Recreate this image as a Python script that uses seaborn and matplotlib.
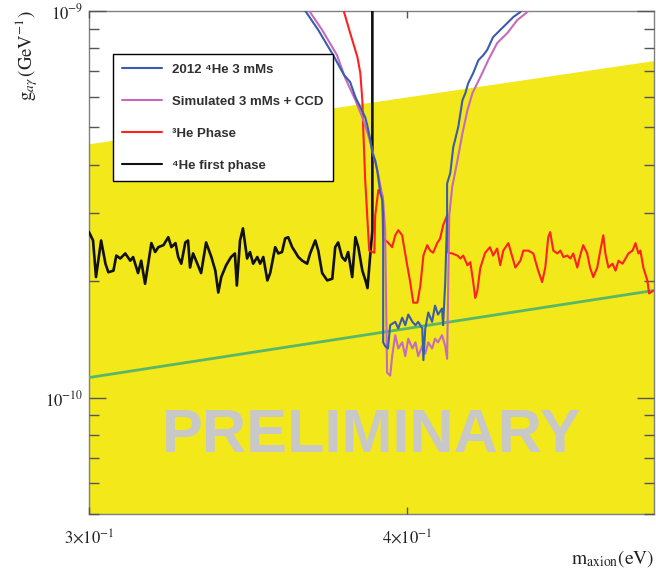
import numpy as np
import matplotlib
matplotlib.use("Agg")
import matplotlib.pyplot as plt
import seaborn as sns
from matplotlib.ticker import LogLocator, NullLocator, FixedLocator, NullFormatter
from matplotlib.lines import Line2D

# ---------------- data (g in units of 1e-10 GeV^-1, mass in eV) ----------------
black_m = [0.3000, 0.3011, 0.3019, 0.3033, 0.3045, 0.3053, 0.3067, 0.3075, 0.3086, 0.3100,
           0.3114, 0.3122, 0.3136, 0.3145, 0.3156, 0.3165, 0.3174, 0.3185, 0.3194, 0.3209,
           0.3223, 0.3232, 0.3244, 0.3252, 0.3261, 0.3273, 0.3281, 0.3287, 0.3296, 0.3305,
           0.3320, 0.3335, 0.3351, 0.3363, 0.3372, 0.3381, 0.3396, 0.3411, 0.3423, 0.3429,
           0.3439, 0.3448, 0.3461, 0.3470, 0.3480, 0.3493, 0.3502, 0.3512, 0.3525, 0.3534,
           0.3550, 0.3560, 0.3572, 0.3582, 0.3592, 0.3605, 0.3615, 0.3625, 0.3638, 0.3654,
           0.3664, 0.3681, 0.3691, 0.3704, 0.3721, 0.3738, 0.3748, 0.3758, 0.3771, 0.3782,
           0.3792, 0.3806, 0.3817, 0.3827, 0.3841, 0.3852, 0.3859, 0.3869, 0.3876, 0.3876]
black_g = [2.68, 2.55, 2.05, 2.55, 2.22, 2.11, 2.13, 2.33, 2.29, 2.36,
           2.26, 2.31, 2.10, 2.26, 1.97, 2.22, 2.51, 2.38, 2.45, 2.48,
           2.60, 2.45, 2.51, 2.31, 2.22, 2.52, 2.55, 2.17, 2.36, 2.26,
           2.10, 2.52, 2.31, 2.13, 1.87, 2.05, 2.20, 2.31, 2.36, 1.95,
           2.55, 2.74, 2.29, 2.38, 2.22, 2.31, 2.22, 2.31, 2.01, 2.10,
           2.45, 2.36, 2.38, 2.58, 2.60, 2.45, 2.38, 2.31, 2.26, 2.22,
           2.36, 2.55, 2.40, 2.10, 2.01, 2.03, 2.45, 2.52, 2.31, 2.26,
           2.38, 2.05, 2.60, 2.45, 2.13, 2.01, 1.92, 2.36, 2.70, 20.0]

red_m = [0.3770, 0.3778, 0.3799, 0.3824, 0.3834, 0.3841, 0.3844, 0.3848, 0.3851, 0.3858,
         0.3865, 0.3883, 0.3886, 0.3897, 0.3911, 0.3914, 0.3931, 0.3946, 0.3957, 0.3968,
         0.3982, 0.3986, 0.4000, 0.4011, 0.4022, 0.4037, 0.4048, 0.4059, 0.4073, 0.4084,
         0.4095, 0.4110, 0.4121, 0.4132, 0.4147, 0.4151, 0.4166, 0.4186, 0.4197, 0.4208,
         0.4224, 0.4235, 0.4246, 0.4254, 0.4262, 0.4273, 0.4292, 0.4311, 0.4323, 0.4339,
         0.4351, 0.4363, 0.4383, 0.4399, 0.4411, 0.4431, 0.4443, 0.4463, 0.4483, 0.4503,
         0.4519, 0.4532, 0.4544, 0.4552, 0.4565, 0.4582, 0.4594, 0.4607, 0.4623, 0.4636,
         0.4648, 0.4665, 0.4677, 0.4690, 0.4707, 0.4719, 0.4733, 0.4750, 0.4763, 0.4776,
         0.4785, 0.4798, 0.4816, 0.4829, 0.4842, 0.4860, 0.4873, 0.4886, 0.4904, 0.4917,
         0.4930, 0.4939, 0.4952, 0.4970, 0.4978, 0.4996]
red_g = [11.0, 9.94, 8.77, 7.60, 6.91, 5.88, 5.01, 4.18, 3.65, 2.96,
         2.40, 2.37, 2.96, 3.44, 3.34, 2.58, 2.52, 2.45, 2.63, 2.71,
         2.63, 2.52, 2.20, 1.99, 1.76, 1.76, 1.95, 2.33, 2.48, 2.40,
         2.37, 2.51, 2.58, 2.79, 2.96, 2.37, 2.36, 2.33, 2.29, 2.33,
         2.20, 2.24, 1.99, 1.81, 1.89, 2.16, 2.37, 2.45, 2.33, 2.43,
         2.20, 2.40, 2.51, 2.31, 2.17, 2.26, 2.40, 2.40, 2.36, 2.13,
         1.99, 2.17, 2.60, 2.68, 2.40, 2.36, 2.40, 2.31, 2.33, 2.29,
         2.36, 2.17, 2.33, 2.48, 2.36, 2.17, 2.05, 2.17, 2.40, 2.63,
         2.36, 2.17, 2.22, 2.13, 2.26, 2.22, 2.29, 2.36, 2.40, 2.51,
         2.36, 2.40, 2.17, 2.01, 1.86, 1.89]

blue_m = [0.3630, 0.3691, 0.3741, 0.3778, 0.3799, 0.3817, 0.3834, 0.3851, 0.3858, 0.3869,
          0.3876, 0.3886, 0.3893, 0.3904, 0.3911, 0.3914, 0.3914, 0.3921, 0.3931, 0.3939,
          0.3957, 0.3968, 0.3982, 0.3993, 0.4004, 0.4019, 0.4030, 0.4040, 0.4055, 0.4059,
          0.4066, 0.4077, 0.4091, 0.4102, 0.4113, 0.4128, 0.4132, 0.4140, 0.4147, 0.4147,
          0.4159, 0.4170, 0.4189, 0.4205, 0.4216, 0.4227, 0.4246, 0.4266, 0.4285, 0.4300,
          0.4323, 0.4351, 0.4379, 0.4403, 0.4431, 0.4443]
blue_g = [10.5, 8.93, 7.69, 6.83, 6.55, 5.99, 5.64, 5.31, 5.07, 4.63,
          4.29, 4.11, 3.88, 3.38, 3.24, 2.96, 1.39, 1.36, 1.34, 1.54,
          1.57, 1.51, 1.61, 1.54, 1.64, 1.57, 1.54, 1.57, 1.51, 1.25,
          1.51, 1.66, 1.57, 1.73, 1.64, 1.70, 1.54, 1.99, 2.96, 3.58,
          3.81, 4.44, 5.01, 5.88, 6.13, 6.51, 6.91, 7.46, 7.69, 7.93,
          8.56, 8.93, 9.31, 9.65, 9.94, 10.5]

pink_m = [0.3643, 0.3704, 0.3754, 0.3782, 0.3817, 0.3841, 0.3862, 0.3876, 0.3897, 0.3914,
          0.3921, 0.3928, 0.3939, 0.3946, 0.3957, 0.3968, 0.3982, 0.3993, 0.4004, 0.4019,
          0.4030, 0.4040, 0.4055, 0.4066, 0.4077, 0.4091, 0.4102, 0.4113, 0.4128, 0.4140,
          0.4147, 0.4155, 0.4166, 0.4186, 0.4205, 0.4224, 0.4243, 0.4262, 0.4281, 0.4304,
          0.4339, 0.4379, 0.4419, 0.4459, 0.4471]
pink_g = [10.5, 8.93, 7.69, 6.71, 5.88, 5.31, 4.77, 4.36, 3.76, 3.24,
          2.71, 1.16, 1.14, 1.28, 1.45, 1.34, 1.39, 1.28, 1.42, 1.34,
          1.39, 1.28, 1.36, 1.30, 1.39, 1.34, 1.42, 1.39, 1.45, 1.36,
          1.26, 2.96, 3.50, 4.11, 4.83, 5.54, 6.13, 6.51, 6.91, 7.46,
          8.26, 8.77, 9.48, 9.94, 10.5]

excl_m = [0.30, 0.50]          # upper edge of the excluded (yellow) region
excl_g = [4.52, 7.42]
model_m = [0.30, 0.50]         # KSVZ-like model line
model_g = [1.127, 1.893]

labels = ["2012 \u2074He 3 mMs", "Simulated 3 mMs + CCD", "\u00b3He Phase", "\u2074He first phase"]
xtick_vals = [0.3, 0.4]
xtick_labels = [r"$3{\times}10^{-1}$", r"$4{\times}10^{-1}$"]
ytick_vals = [1e-10, 1e-9]
ytick_labels = [r"$10^{-10}$", r"$10^{-9}$"]

S = 1e-10
# ---------------- style ----------------
sns.set_theme(style="white")
plt.rcParams["mathtext.fontset"] = "stix"
plt.rcParams["font.family"] = ["Liberation Sans", "DejaVu Sans"]

c_blue = "#3b5bab"
c_pink = "#c46bbd"
c_red = "#ff2020"
c_black = "#111111"
c_green = "#58b868"
c_yellow = "#f2e81a"

fig = plt.figure(figsize=(6.56, 5.76), dpi=100)
L, R, T, B = 89, 654, 11, 514
ax = fig.add_axes([L / 656, 1 - B / 576, (R - L) / 656, (B - T) / 576])
ax.set_xscale("log")
ax.set_yscale("log")
ax.set_xlim(0.3, 0.5)
ax.set_ylim(5e-11, 1e-9)
ax.set_axisbelow(False)

ax.fill_between(excl_m, [1e-12, 1e-12], np.array(excl_g) * S, color=c_yellow, lw=0, zorder=1)

sns.lineplot(x=model_m, y=np.array(model_g) * S, ax=ax, color=c_green, lw=2.0, zorder=3)
sns.lineplot(x=black_m, y=np.array(black_g) * S, ax=ax, color=c_black, lw=1.9,
             sort=False, estimator=None, zorder=4)
sns.lineplot(x=red_m, y=np.array(red_g) * S, ax=ax, color=c_red, lw=1.5,
             sort=False, estimator=None, zorder=5)
sns.lineplot(x=pink_m, y=np.array(pink_g) * S, ax=ax, color=c_pink, lw=1.5,
             sort=False, estimator=None, zorder=6)
sns.lineplot(x=blue_m, y=np.array(blue_g) * S, ax=ax, color=c_blue, lw=1.5,
             sort=False, estimator=None, zorder=7)

ax.text(0.5, 0.155, "PRELIMINARY", transform=ax.transAxes, ha="center", va="center",
        fontsize=44, fontweight="bold", color="#c8c8c8", zorder=8,
        family=["Liberation Sans", "DejaVu Sans"])

# ticks
ax.xaxis.set_major_locator(FixedLocator(xtick_vals))
ax.set_xticklabels(xtick_labels)
ax.xaxis.set_minor_locator(NullLocator())
ax.yaxis.set_major_locator(FixedLocator(ytick_vals))
ax.set_yticklabels(ytick_labels)
ax.yaxis.set_minor_locator(LogLocator(base=10, subs=np.arange(2, 10)))
ax.yaxis.set_minor_formatter(NullFormatter())
ax.tick_params(axis="both", which="both", direction="in", top=True, right=True,
               left=True, bottom=True, colors="#555555", labelcolor="#222222", width=1.0)
ax.tick_params(axis="y", which="major", length=12, pad=4, labelsize=12)
ax.tick_params(axis="y", which="minor", length=7)
ax.tick_params(axis="x", which="major", length=5, pad=10, labelsize=12)
for sp in ax.spines.values():
    sp.set_color("#808080")
    sp.set_linewidth(1.0)
    sp.set_visible(True)

# legend
handles = [Line2D([], [], color=c, lw=1.5) for c in (c_blue, c_pink, c_red, c_black)]
leg = ax.legend(handles, labels, loc="upper left", bbox_to_anchor=(113 / 656, 1 - 54 / 576),
                bbox_transform=fig.transFigure, frameon=True, fancybox=False,
                framealpha=1, edgecolor="black", labelspacing=1.5,
                handlelength=3.0, handletextpad=0.75, borderpad=0.72, borderaxespad=0,
                prop={"weight": "bold", "size": 9.5, "family": ["Liberation Sans", "DejaVu Sans"]})
leg.get_frame().set_linewidth(1.0)
leg.set_zorder(20)
for t in leg.get_texts():
    t.set_color("#303030")

# axis labels
fig.text(27 / 656, 1 - 56 / 576, r"$\mathrm{g}_{a\gamma}\,\mathrm{(GeV^{-1})}$", rotation=90,
         ha="center", va="center", fontsize=13.5, color="#222222")
fig.text(654 / 656, 1 - 559 / 576, r"$\mathrm{m_{axion}(eV)}$", ha="right", va="center",
         fontsize=14, color="#222222")

fig.savefig("out.png", dpi=100)
